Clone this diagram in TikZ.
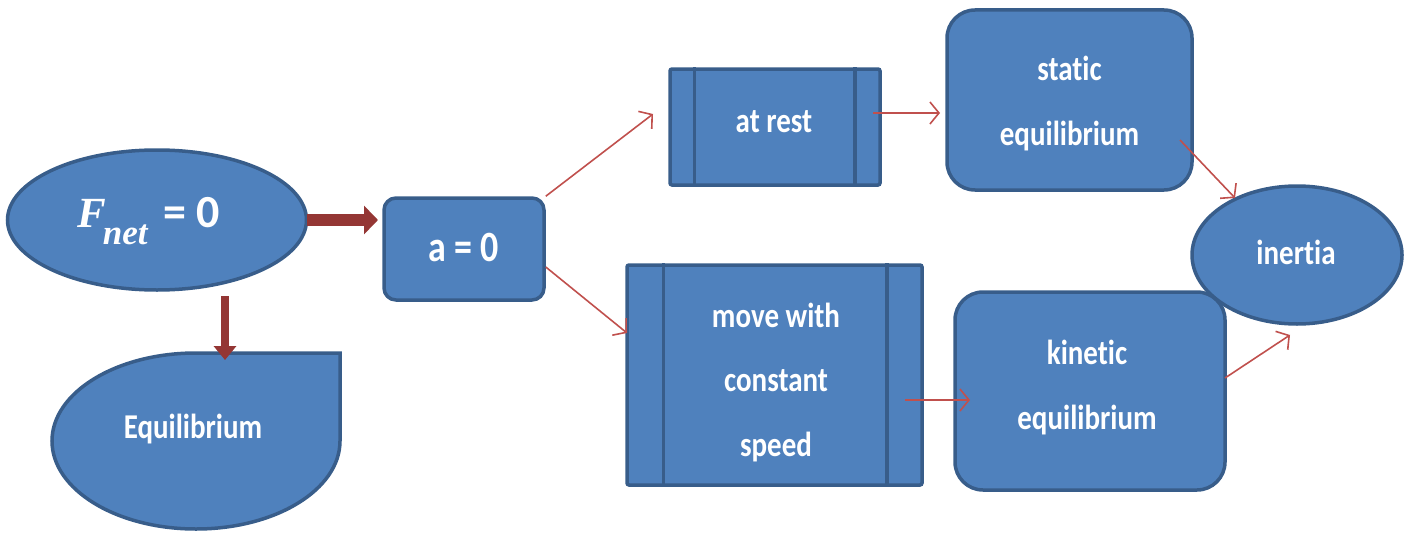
\documentclass[tikz,border=0pt]{standalone}
\usepackage{graphicx}
\usepackage{fontspec}
\setmainfont{Carlito}[Ligatures=CommonOff]
\newfontfamily\serifit{Liberation Serif}
\usetikzlibrary{arrows.meta,shapes.geometric,calc}
\definecolor{boxfill}{HTML}{4F81BD}
\definecolor{boxline}{HTML}{385D8A}
\definecolor{thinred}{HTML}{C0504D}
\definecolor{darkred}{HTML}{943634}
\newcommand{\tx}[1]{\scalebox{1}[1.2]{\begin{tabular}{@{}c@{}}#1\end{tabular}}}
\begin{document}
\begin{tikzpicture}[x=1pt,y=-1pt,
  base/.style={fill=boxfill,draw=boxline,line width=3.5pt,text=white,
    font=\fontsize{29}{54}\selectfont\bfseries,align=center,inner sep=0pt},
  roundbox/.style={base,rectangle,rounded corners=#1},
  procbox/.style={base,rectangle,rounded corners=2pt},
  ellbox/.style={base,ellipse},
  txt/.style={text=white,font=\fontsize{29}{54}\selectfont\bfseries,inner sep=0pt},
  innerline/.style={draw=boxline,line width=3.5pt},
  link/.style={draw=thinred,line width=1.6pt,-{Straight Barb[length=9pt,width=22pt,line width=1.6pt]}},
  bigarrow/.style={draw=darkred,line width=#1,-{Triangle[length=14pt,width=28pt]}},
]
\useasboundingbox (0,0) rectangle (1412,535);

% nodes
\node[ellbox,minimum width=299pt,minimum height=140pt] (fnet) at (157,220) {};
\node[txt,anchor=base west] (fnettext) at (77,227)
  {{\serifit\bfseries\itshape\fontsize{43}{46}\selectfont F}\kern-3pt\raisebox{-17pt}{\serifit\bfseries\itshape\fontsize{35}{40}\selectfont net}\hspace{16pt}{\fontsize{46}{50}\selectfont =\hspace{10pt}0}};
\node[roundbox=12pt,minimum width=160pt,minimum height=102pt] (a0) at (464,249)
  {{\fontsize{36}{54}\selectfont\tx{a = 0}}};
\node[procbox,minimum width=210pt,minimum height=116pt] (rest) at (775,127) {};
\node[txt] (resttext) at (774,120) {\tx{at rest}};
\draw[innerline] ([xshift=26pt]rest.north west) -- ([xshift=26pt]rest.south west);
\draw[innerline] ([xshift=-27pt]rest.north east) -- ([xshift=-27pt]rest.south east);
\node[procbox,minimum width=295pt,minimum height=220pt] (move) at (774.5,375) {};
\node[txt] (movetext) at (776,379) {\tx{move with\\constant\\speed}};
\draw[innerline] ([xshift=38pt]move.north west) -- ([xshift=38pt]move.south west);
\draw[innerline] ([xshift=-37pt]move.north east) -- ([xshift=-37pt]move.south east);
\node[roundbox=28pt,minimum width=245pt,minimum height=180pt] (static) at (1069.5,100) {\tx{static\\equilibrium}};
\node[roundbox=28pt,minimum width=270pt,minimum height=198pt] (kinetic) at (1090,391) {};
\node[txt] (kintext) at (1087,384) {\tx{kinetic\\equilibrium}};
\node[ellbox,minimum width=210pt,minimum height=138pt] (inertia) at (1297,255) {};
\node[txt] (inertext) at (1296,252) {\tx{inertia}};

% Equilibrium shape (teardrop with square top-right corner)
\draw[base] (52,441) arc[start angle=180,end angle=90,x radius=144,y radius=-88]
  -- (340,353) -- (340,441)
  arc[start angle=0,end angle=-90,x radius=144,y radius=-88]
  arc[start angle=-90,end angle=-180,x radius=144,y radius=-88] -- cycle;
\node[txt] (eq) at (193,426) {\tx{Equilibrium}};

% connector end points
\coordinate (f1) at (307,220);
\coordinate (f2) at (378,220);
\coordinate (d1) at (225,296);
\coordinate (d2) at (225,360);
\coordinate (r1) at (653,114);
\coordinate (m1) at (627,333);
\coordinate (s1) at (940,113);
\coordinate (k1) at (970,400);
\coordinate (i1) at (1235,198);
\coordinate (i2) at (1290,335);
\coordinate (o1) at (873,113);
\coordinate (o2) at (905,400);
\coordinate (o3) at (1180,140);
\coordinate (o4) at (1225,378);

% connectors
\draw[bigarrow=12pt] (f1) -- (f2);
\draw[draw=darkred,line width=8pt,-{Triangle[length=14pt,width=22pt]}] (d1) -- (d2);
\draw[link] (a0.north east) -- (r1);
\draw[link] ([yshift=-18pt]a0.east) -- (m1);
\draw[link] (o1) -- (s1);
\draw[link] (o2) -- (k1);
\draw[link] (o3) -- (i1);
\draw[link] (o4) -- (i2);
\end{tikzpicture}
\end{document}
